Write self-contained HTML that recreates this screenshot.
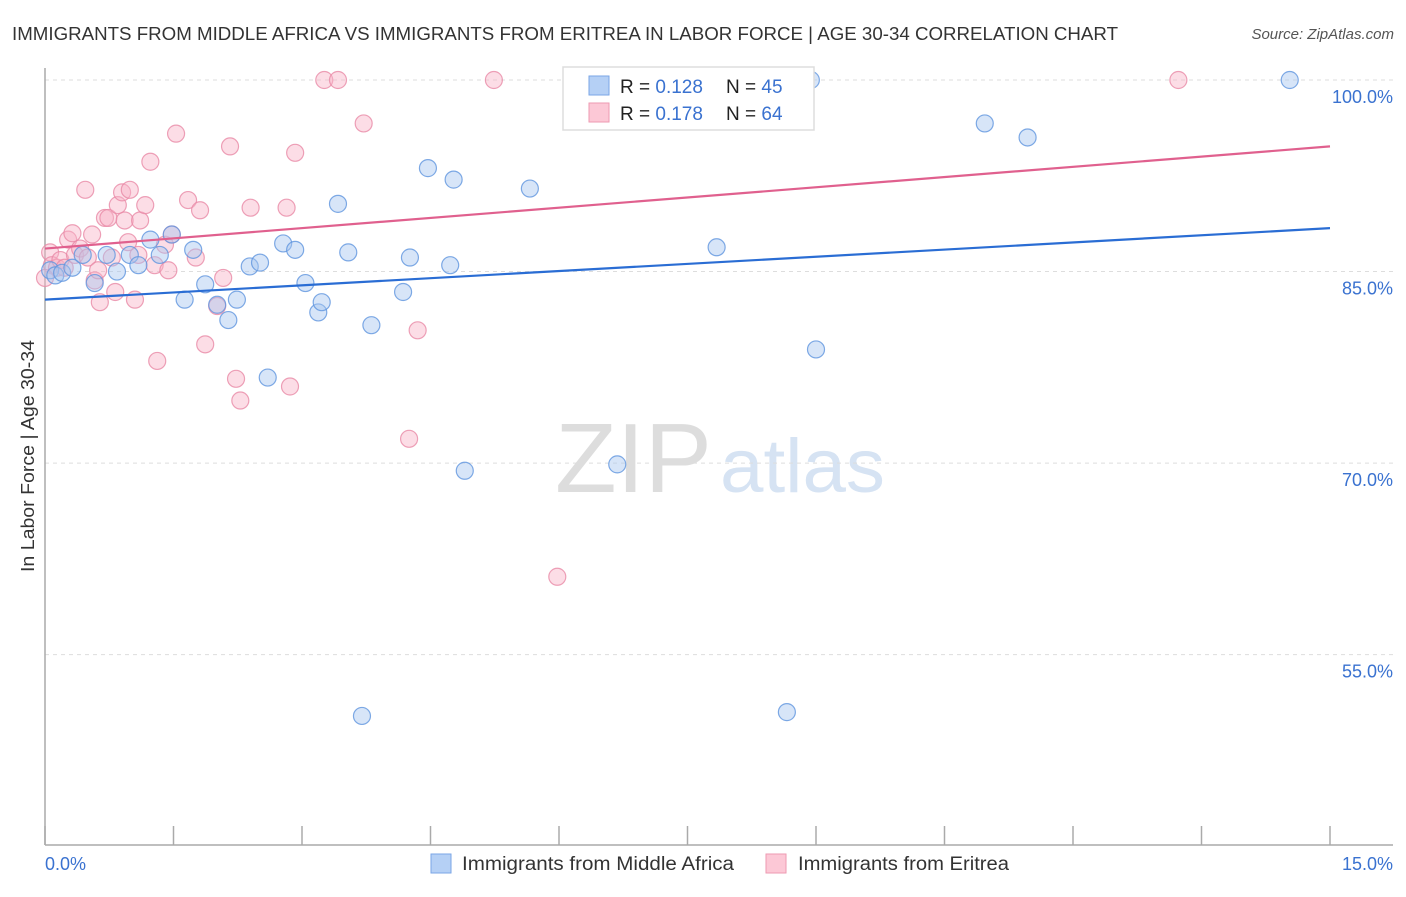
<!DOCTYPE html>
<html><head><meta charset="utf-8"><style>
body{margin:0;background:#fff;font-family:"Liberation Sans",sans-serif}
svg text{font-family:"Liberation Sans",sans-serif}
</style></head><body>
<svg width="1406" height="892" xmlns="http://www.w3.org/2000/svg">
<text x="12" y="40" font-size="18" fill="#333" textLength="1106" lengthAdjust="spacingAndGlyphs">IMMIGRANTS FROM MIDDLE AFRICA VS IMMIGRANTS FROM ERITREA IN LABOR FORCE | AGE 30-34 CORRELATION CHART</text>
<text x="1394" y="39" font-size="15" fill="#555" font-style="italic" text-anchor="end">Source: ZipAtlas.com</text>
<text x="555" y="492" font-size="98" fill="#ddd" font-family="Liberation Serif" textLength="157" lengthAdjust="spacingAndGlyphs">ZIP</text>
<text x="720" y="492" font-size="76" fill="#d6e3f3" textLength="165" lengthAdjust="spacingAndGlyphs">atlas</text>
<g id="grid"></g>
<line x1="45" y1="68" x2="45" y2="845" stroke="#aaa" stroke-width="1.5"/>
<line x1="45" y1="845" x2="1393" y2="845" stroke="#aaa" stroke-width="1.5"/>
<g id="xticks"></g>
<g id="ylabels"></g>
<text x="45" y="870" font-size="18" fill="#3a72d0">0.0%</text>
<text x="1393" y="870" font-size="18" fill="#3a72d0" text-anchor="end">15.0%</text>
<text transform="translate(34,456) rotate(-90)" font-size="18" fill="#333" text-anchor="middle" textLength="232" lengthAdjust="spacingAndGlyphs">In Labor Force | Age 30-34</text>
<g id="pink"></g>
<g id="blue"></g>
<g id="lines"></g>
<g>
<rect x="563" y="67" width="251" height="63" fill="#fff" stroke="#ddd" stroke-width="1.5"/>
<rect x="589" y="76" width="20" height="19" fill="#b5d0f5" stroke="#7aa6e6"/>
<rect x="589" y="103" width="20" height="19" fill="#fcc8d6" stroke="#ee9ab2"/>
<text x="620" y="93" font-size="19" fill="#222">R = <tspan fill="#3a72d0">0.128</tspan></text>
<text x="726" y="93" font-size="19" fill="#222">N = <tspan fill="#3a72d0">45</tspan></text>
<text x="620" y="120" font-size="19" fill="#222">R = <tspan fill="#3a72d0">0.178</tspan></text>
<text x="726" y="120" font-size="19" fill="#222">N = <tspan fill="#3a72d0">64</tspan></text>
</g>
<g>
<rect x="431" y="854" width="20" height="19" fill="#b5d0f5" stroke="#7aa6e6"/>
<text x="462" y="870" font-size="19" fill="#333" textLength="272" lengthAdjust="spacingAndGlyphs">Immigrants from Middle Africa</text>
<rect x="766" y="854" width="20" height="19" fill="#fcc8d6" stroke="#ee9ab2"/>
<text x="798" y="870" font-size="19" fill="#333" textLength="211" lengthAdjust="spacingAndGlyphs">Immigrants from Eritrea</text>
</g>
</svg>
<script>
const yTicks=[100,85,70,55];
const xTickVals=[0,1.5,3,4.5,6,7.5,9,10.5,12,13.5,15];
const blueX=[0.06,0.12,0.20,0.32,0.44,0.58,0.72,0.84,0.99,1.09,1.23,1.34,1.48,1.63,1.73,1.87,2.01,2.14,2.24,2.39,2.51,2.60,2.78,2.92,3.04,3.19,3.23,3.42,3.54,3.70,3.81,4.18,4.26,4.47,4.73,4.77,4.90,5.66,6.68,7.84,8.66,8.94,9.00,10.97,11.47,14.53];
const blueY=[85.1,84.7,84.9,85.3,86.3,84.1,86.3,85.0,86.3,85.5,87.5,86.3,87.9,82.8,86.7,84.0,82.4,81.2,82.8,85.4,85.7,76.7,87.2,86.7,84.1,81.8,82.6,90.3,86.5,50.2,80.8,83.4,86.1,93.1,85.5,92.2,69.4,91.5,69.9,86.9,50.5,100,78.9,96.6,95.5,100];
const pinkX=[0.06,0.08,0.14,0.18,0.23,0.27,0.32,0.35,0.41,0.47,0.50,0.55,0.58,0.62,0.64,0.70,0.74,0.78,0.82,0.85,0.90,0.93,0.97,0.99,1.05,1.09,1.11,1.17,1.23,1.28,1.31,1.40,1.44,1.48,1.53,1.67,1.76,1.81,1.87,2.01,2.08,2.16,2.23,2.28,2.40,2.82,2.86,2.92,3.26,3.42,3.72,4.25,4.35,5.24,5.98,13.23,0];
const pinkY=[86.5,85.5,85.3,85.9,85.3,87.5,88.0,86.3,86.8,91.4,86.1,87.9,84.3,85.1,82.6,89.2,89.2,86.1,83.4,90.2,91.2,89.0,87.3,91.4,82.8,86.3,89.0,90.2,93.6,85.5,78.0,87.1,85.1,87.9,95.8,90.6,86.1,89.8,79.3,82.3,84.5,94.8,76.6,74.9,90.0,90.0,76.0,94.3,100,100,96.6,71.9,80.4,100,61.1,100,84.5];
const blueTrend=[82.8,88.4];
const pinkTrend=[86.8,94.8];
const NS='http://www.w3.org/2000/svg';
const X=v=>45+v/15*1285;
const Y=v=>80+(100-v)*12.77;
function mk(tag,attrs,parent){const e=document.createElementNS(NS,tag);for(const k in attrs)e.setAttribute(k,attrs[k]);document.getElementById(parent).appendChild(e);return e;}
yTicks.forEach(t=>{
 const l=mk('line',{x1:45,x2:1393,y1:Y(t),y2:Y(t),stroke:'#ddd','stroke-dasharray':'4,4'},'grid');
 
 
 const tx=mk('text',{x:1393,y:Y(t)+23,'font-size':18,fill:'#3a72d0','text-anchor':'end'},'ylabels');
 tx.textContent=t.toFixed(1)+'%';
 
 
});
xTickVals.forEach(v=>{
 const l=mk('line',{x1:X(v),x2:X(v),y1:826,y2:845,stroke:'#aaa','stroke-width':1.5},'xticks');
 
 
});
function pts(xs,ys,g,fill,stroke,name){
 xs.forEach((x,i)=>{
  const c=mk('circle',{cx:X(x),cy:Y(ys[i]),r:8.5,fill:fill,'fill-opacity':0.45,stroke:stroke,'stroke-opacity':0.8,'stroke-width':1.2},g);
  
  
 });
}
pts(pinkX,pinkY,'pink','#f8b4c8','#e88aa6','eritrea-point');
pts(blueX,blueY,'blue','#a6c6f0','#5f95de','middle-africa-point');
const bl=mk('line',{x1:X(0),y1:Y(blueTrend[0]),x2:X(15),y2:Y(blueTrend[1]),stroke:'#2a6dd4','stroke-width':2.2},'lines');


const pl=mk('line',{x1:X(0),y1:Y(pinkTrend[0]),x2:X(15),y2:Y(pinkTrend[1]),stroke:'#e0608e','stroke-width':2.2},'lines');


</script>
</body></html>
